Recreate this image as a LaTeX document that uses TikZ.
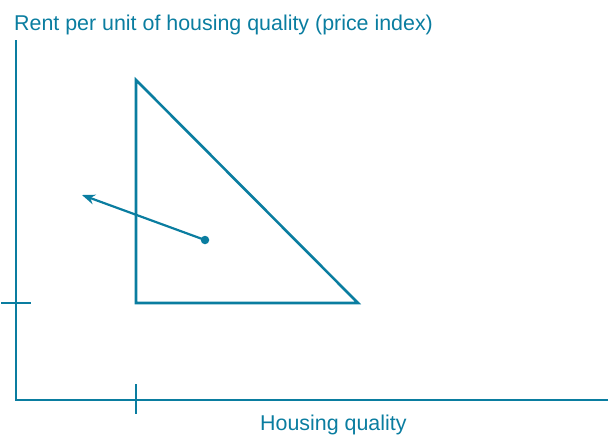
\documentclass[tikz,border=0pt]{standalone}
\usepackage{fontspec}
\setmainfont{Liberation Sans}
\usetikzlibrary{arrows.meta}
\definecolor{teal1}{RGB}{10,125,160}
\begin{document}
\begin{tikzpicture}[x=1pt,y=-1pt,
  ln/.style={draw=teal1,line width=2.6pt},
  lbl/.style={text=teal1,font=\fontsize{21.4}{24}\selectfont,inner sep=0pt,anchor=base west}]
\useasboundingbox (0,0) rectangle (610,437);
% axes
\coordinate (ytop) at (16,40);
\coordinate (orig) at (16,400);
\coordinate (xend) at (608,400);
\draw[ln] (ytop) -- (orig) -- (xend);
% ticks
\coordinate (yt1) at (1,303);
\coordinate (yt2) at (31,303);
\draw[ln] (yt1) -- (yt2);
\coordinate (xt1) at (136,384);
\coordinate (xt2) at (136,414);
\draw[ln] (xt1) -- (xt2);
% triangle
\coordinate (A) at (136,80);
\coordinate (B) at (136,303);
\coordinate (C) at (358,303);
\draw[ln,line join=miter] (A) -- (B) -- (C) -- cycle;
% arrow
\node[circle,fill=teal1,inner sep=0pt,minimum size=8.5pt] (dot) at (205,240) {};
\coordinate (tip) at (82,195);
\draw[ln,line width=2.2pt,-{Stealth[length=13pt,width=10pt]}] (dot.center) -- (tip);
% labels
\node[lbl] (ylab) at (14,30) {Rent per unit of housing quality (price index)};
\node[lbl] (xlab) at (260,430) {Housing quality};
\end{tikzpicture}
\end{document}
